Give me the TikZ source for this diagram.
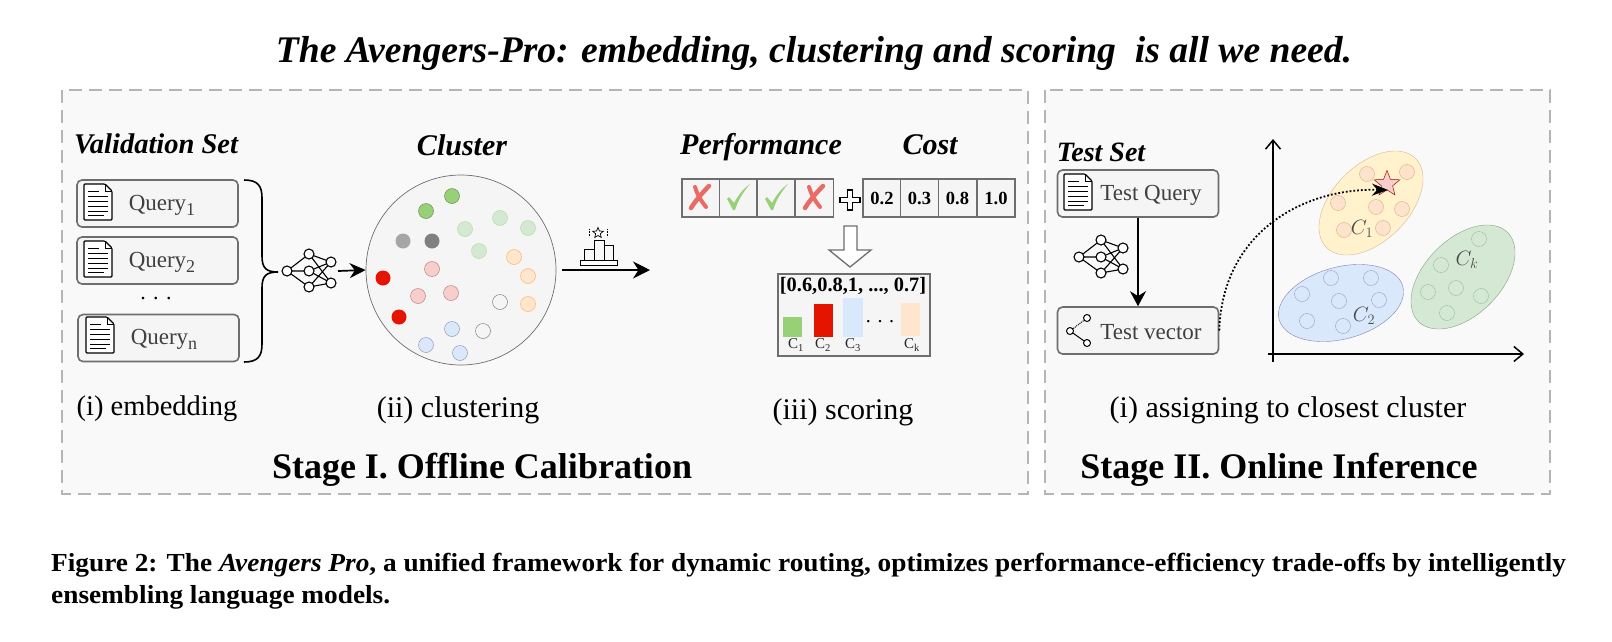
\documentclass[tikz,border=0pt]{standalone}
\usepackage{fontspec}
\setmainfont{Liberation Serif}
\newfontfamily\captionfont[FakeStretch=1.05]{Liberation Serif}
\usetikzlibrary{shapes.geometric,arrows.meta}
\definecolor{panelgray}{HTML}{F9F9F9}
\definecolor{boxgray}{HTML}{F5F5F5}
\definecolor{linegray}{HTML}{6E6E6E}
\definecolor{dashgray}{HTML}{B5B5B5}
\definecolor{dkgreen}{HTML}{97D077}
\definecolor{ltgreen}{HTML}{D5E8D4}
\definecolor{myred}{HTML}{E51400}
\definecolor{crossred}{HTML}{EA6B66}
\definecolor{mypink}{HTML}{F8CECC}
\definecolor{myorange}{HTML}{FFE6CC}
\definecolor{myblue}{HTML}{DAE8FC}
\definecolor{myyellow}{HTML}{FFF2CC}
\newcommand{\subidx}[1]{\raisebox{-5pt}{\fontsize{18}{18}\selectfont #1}}
\tikzstyle{panel} = [draw=dashgray, fill=panelgray, line width=1.3pt, dash pattern=on 13pt off 7pt]
\tikzstyle{heading} = [font=\fontsize{30}{32}\selectfont\bfseries\itshape]
\tikzstyle{stagetitle} = [font=\fontsize{36}{38}\selectfont\bfseries]
\tikzstyle{steplabel} = [font=\fontsize{30}{32}\selectfont]
\tikzstyle{boxtext} = [font=\fontsize{23}{26}\selectfont, text=black!75]
\tikzstyle{roundbox} = [rectangle, rounded corners=5pt, draw=linegray, fill=boxgray, line width=1.6pt, minimum width=161pt, minimum height=47pt]
\tikzstyle{cell} = [rectangle, draw=linegray, fill=boxgray, line width=1.6pt, minimum width=38pt, minimum height=38pt, inner sep=0pt, font=\fontsize{18.5}{20}\selectfont\bfseries]
\tikzstyle{dot} = [circle, minimum size=15pt, inner sep=0pt, line width=0.5pt]
\tikzstyle{smalldot} = [circle, minimum size=15pt, inner sep=0pt, line width=0.4pt, fill opacity=0.75]
\tikzstyle{barlabel} = [font=\fontsize{15}{17}\selectfont, text=black!85, inner sep=0pt]
\tikzset{
  docicon/.pic={
    \draw[line width=1.1pt, fill=white, rounded corners=1pt] (-14,-18) -- (7,-18) -- (14,-11) -- (14,18) -- (-14,18) -- cycle;
    \draw[line width=0.9pt] (7,-18) -- (7,-11) -- (14,-11);
    \draw[line width=0.9pt] (-10,-11) -- (1,-11) (-10,-6) -- (10,-6) (-10,-1) -- (10,-1) (-10,4) -- (10,4) (-10,9) -- (10,9) (-10,13) -- (6,13);
  },
  nnicon/.pic={
    \draw[line width=1.1pt] (0,0) -- (22,-17) (0,0) -- (22,0) (0,0) -- (22,16);
    \draw[line width=1.1pt] (22,-17) -- (44,-9) (22,-17) -- (44,12) (22,0) -- (44,-9) (22,0) -- (44,12) (22,16) -- (44,-9) (22,16) -- (44,12);
    \draw[line width=1.1pt, fill=white] (0,0) circle (5) (22,-17) circle (5) (22,0) circle (5) (22,16) circle (5) (44,-9) circle (5) (44,12) circle (5);
  },
  crossmark/.pic={
    \draw[crossred, line width=4.5pt, line cap=round] (9,-11) .. controls (3,-5) and (-4,3) .. (-9,11);
    \draw[crossred, line width=4pt, line cap=round] (-5,-10) .. controls (-3,-3) and (1,4) .. (6,10);
  },
  checkmark/.pic={
    \fill[dkgreen] (-11,2) -- (-9,0) -- (-4,6) .. controls (1,-3) and (6,-9) .. (12,-13) .. controls (6,-6) and (0,3) .. (-3,13) -- (-5,13) .. controls (-7,9) and (-9,5) .. (-11,2) -- cycle;
  }
}
\begin{document}
\begin{tikzpicture}[x=1pt,y=-1pt]
\useasboundingbox (0,0) rectangle (1612,641);

    % Title
    \node (title) at (814,53) {\fontsize{37.6}{40}\selectfont\bfseries\itshape The Avengers-Pro: embedding, clustering and scoring\ \ is all we need.};

    % Panels
    \draw[panel] (62,90) rectangle (1028,494);
    \draw[panel] (1045,90) rectangle (1550,494);

    % Stage I: embedding
    \node (valset) at (156,144) [heading, font=\fontsize{28.5}{32}\selectfont\bfseries\itshape] {Validation Set};
    \node (query1) at (157.5,203.5) [roundbox] {};
    \node (query2) at (157.5,260.5) [roundbox] {};
    \node (queryn) at (158.5,338) [roundbox] {};
    \pic at (98,202) {docicon};
    \pic at (98,259) {docicon};
    \pic at (100,335) {docicon};
    \node (q1text) at (162,205) [boxtext] {Query\subidx{1}};
    \node (q2text) at (162,262) [boxtext] {Query\subidx{2}};
    \node (qntext) at (164,339) [boxtext] {Query\subidx{n}};
    \node (qdots) at (156,299) [font=\fontsize{22}{24}\selectfont] {.\,\,.\,\,.};
    \draw[line width=1.6pt] (244,180) .. controls (258,180) and (262,186) .. (262,198) -- (262,256) .. controls (262,268) and (266,272) .. (278,272) .. controls (266,272) and (262,276) .. (262,288) -- (262,344) .. controls (262,356) and (258,362) .. (244,362);
    \pic at (287,271) {nnicon};
    \node (embedlabel) at (157,409) [steplabel, font=\fontsize{28.5}{32}\selectfont] {(i) embedding};

    % Stage I: clustering
    \node (clusterhead) at (462,145) [heading] {Cluster};
    \node (cluster) at (461,270) [circle, draw=linegray, fill=boxgray, line width=0.7pt, minimum size=190pt, inner sep=0pt] {};
    \coordinate (nnout) at (338,271);
    \draw[-{Stealth[length=16pt,width=15pt]}, line width=1.7pt] (nnout) -- (cluster.west);

    \node (g1) at (452,196) [dot, draw=dkgreen!70!black, fill=dkgreen] {};
    \node (g2) at (426,211) [dot, draw=dkgreen!70!black, fill=dkgreen] {};
    \node (lg1) at (465,229) [dot, draw=dkgreen!70!white, fill=ltgreen] {};
    \node (lg2) at (500,218) [dot, draw=dkgreen!70!white, fill=ltgreen] {};
    \node (lg3) at (528,228) [dot, draw=dkgreen!70!white, fill=ltgreen] {};
    \node (lg4) at (479,251) [dot, draw=dkgreen!70!white, fill=ltgreen] {};
    \node (gr1) at (403,241) [dot, fill=black!35] {};
    \node (gr2) at (432,241) [dot, fill=black!50] {};
    \node (p1) at (432,269) [dot, draw=myred!50!black!50, fill=mypink] {};
    \node (p2) at (418,296) [dot, draw=myred!50!black!50, fill=mypink] {};
    \node (p3) at (451,293) [dot, draw=myred!50!black!50, fill=mypink] {};
    \node (r1) at (383,278) [dot, fill=myred] {};
    \node (r2) at (399,317) [dot, fill=myred] {};
    \node (o1) at (514,257) [dot, draw=orange!60, fill=myorange] {};
    \node (o2) at (528,276) [dot, draw=orange!60, fill=myorange] {};
    \node (o3) at (528,304) [dot, draw=orange!60, fill=myorange] {};
    \node (w1) at (500,302) [dot, draw=black!50, fill=boxgray] {};
    \node (w2) at (483,331) [dot, draw=black!50, fill=boxgray] {};
    \node (b1) at (452,329) [dot, draw=blue!30!black!40, fill=myblue] {};
    \node (b2) at (426,345) [dot, draw=blue!30!black!40, fill=myblue] {};
    \node (b3) at (460,353) [dot, draw=blue!30!black!40, fill=myblue] {};
    \node (clusterlabel) at (458,410) [steplabel] {(ii) clustering};

    % Podium and arrow
    \coordinate (scorestart) at (562,270);
    \coordinate (scoreend) at (650,270);
    \draw[-{Stealth[length=17pt,width=17pt]}, line width=1.7pt] (scorestart) -- (scoreend);
    \draw[line width=0.8pt, fill=white] (580,260) rectangle (617,265);
    \draw[line width=0.8pt] (584,260) rectangle (594,249) (594,260) rectangle (604,240) (604,260) rectangle (613,245);
    \node (podiumstar) at (598,233) [star, star points=5, star point ratio=2.2, draw, line width=0.7pt, minimum size=11pt, inner sep=0pt] {};
    \draw[line width=0.6pt, densely dotted] (589,229) -- (589,237) (607,229) -- (607,237);

    % Stage I: scoring
    \node (perf) at (761,147) [heading] {Performance};
    \node (cost) at (930,145) [heading] {Cost};
    \node (c1) at (701,198) [cell] {};
    \node (c2) at (738.5,198) [cell] {};
    \node (c3) at (776,198) [cell] {};
    \node (c4) at (814.5,198) [cell] {};
    \pic at (700,197) {crossmark};
    \pic at (738,197) {checkmark};
    \pic at (776,197) {checkmark};
    \pic at (814,197) {crossmark};
    \node (d1) at (882,198) [cell] {0.2};
    \node (d2) at (919.5,198) [cell] {0.3};
    \node (d3) at (957.5,198) [cell] {0.8};
    \node (d4) at (996,198) [cell] {1.0};
    \draw[line width=1.6pt, fill=white] (847.5,190) -- (852.5,190) -- (852.5,197.5) -- (860,197.5) -- (860,202.5) -- (852.5,202.5) -- (852.5,210) -- (847.5,210) -- (847.5,202.5) -- (840,202.5) -- (840,197.5) -- (847.5,197.5) -- cycle;
    \draw[line width=1.3pt, draw=linegray, fill=white] (844,226) -- (857,226) -- (857,250) -- (871,250) -- (850,267) -- (829,250) -- (844,250) -- cycle;
    \node (scorebox) at (854,315) [rectangle, draw=linegray, fill=boxgray, line width=1.6pt, minimum width=152pt, minimum height=82pt] {};
    \node (scoretext) at (853,286) [font=\fontsize{20.4}{22}\selectfont\bfseries] {[0.6,0.8,1, ..., 0.7]};
    \fill[dkgreen] (783,317) rectangle (802,337);
    \fill[myred] (814,304) rectangle (833,337);
    \fill[myblue] (843,298) rectangle (863,337);
    \fill[myorange] (901,303) rectangle (920,336);
    \node (bardots) at (880,322) [font=\fontsize{20}{22}\selectfont] {.\,\,.\,\,.};
    \node (l1) at (796,345) [barlabel] {C\textsubscript{1}};
    \node (l2) at (823,345) [barlabel] {C\textsubscript{2}};
    \node (l3) at (853,345) [barlabel] {C\textsubscript{3}};
    \node (lk) at (912,345) [barlabel] {C\textsubscript{k}};
    \node (scorelabel) at (843,412) [steplabel] {(iii) scoring};

    \node (stage1) at (482,470) [stagetitle] {Stage I. Offline Calibration};

    % Stage II: test query
    \node (testset) at (1101,152) [heading, font=\fontsize{28}{32}\selectfont\bfseries\itshape] {Test Set};
    \node (testquery) at (1138,193.5) [roundbox] {};
    \node (testvector) at (1138,330.5) [roundbox] {};
    \pic at (1078,192) {docicon};
    \node (tqtext) at (1151,195) [boxtext] {Test Query};
    \node (tvtext) at (1151,332) [boxtext] {Test vector};
    \pic at (1079,257) {nnicon};
    \draw[-{Stealth[length=15pt,width=16pt]}, line width=1.9pt] (testquery.south) -- (testvector.north);
    \draw[line width=1pt] (1070,331) -- (1087,343);
    \draw[line width=1pt, densely dotted] (1070,331) -- (1087,318);
    \node (gv1) at (1070,331) [circle, draw, line width=1pt, fill=white, minimum size=7pt, inner sep=0pt] {};
    \node (gv2) at (1087,318) [circle, draw, line width=1pt, fill=white, minimum size=7pt, inner sep=0pt] {};
    \node (gv3) at (1087,343) [circle, draw, line width=1pt, fill=white, minimum size=7pt, inner sep=0pt] {};

    % Axes
    \coordinate (yfrom) at (1273,362);
    \coordinate (yto) at (1273,139);
    \coordinate (xfrom) at (1268,354);
    \coordinate (xto) at (1524,354);
    \draw[->, >={Straight Barb[length=9pt,width=15pt]}, line width=1.5pt] (yfrom) -- (yto);
    \draw[->, >={Straight Barb[length=9pt,width=15pt]}, line width=1.5pt] (xfrom) -- (xto);

    % Ellipses
    \draw[draw=orange!60!black!40, fill=myyellow, rotate around={45:(1371,203)}] (1371,203) ellipse (63 and 38);
    \draw[draw=blue!40!black!50, fill=myblue, rotate around={15:(1341,303)}] (1341,303) ellipse (64 and 36);
    \draw[draw=green!30!black!50, fill=ltgreen, rotate around={45:(1463,277)}] (1463,277) ellipse (63 and 38);

    % Points in C1
    \node (a1) at (1367,174) [smalldot, draw=orange!70!black!50, fill=myorange!70!mypink] {};
    \node (a2) at (1407,172) [smalldot, draw=orange!70!black!50, fill=myorange!70!mypink] {};
    \node (a3) at (1338,203) [smalldot, draw=orange!70!black!50, fill=myorange!70!mypink] {};
    \node (a4) at (1376,207) [smalldot, draw=orange!70!black!50, fill=myorange!70!mypink] {};
    \node (a5) at (1402,209) [smalldot, draw=orange!70!black!50, fill=myorange!70!mypink] {};
    \node (a6) at (1344,230) [smalldot, draw=orange!70!black!50, fill=myorange!70!mypink] {};
    \node (a7) at (1383,228) [smalldot, draw=orange!70!black!50, fill=myorange!70!mypink] {};
    \node (c1label) at (1362,229) [font=\fontsize{20}{22}\selectfont, text=black!70] {$C_1$};
    \node (closest) at (1387,184) [star, star points=5, star point ratio=2.3, draw=myred!70!black, fill=mypink, line width=0.5pt, minimum size=27pt, inner sep=0pt] {};
    \coordinate (closesttip) at (1388,190);

    % Points in C2
    \node (e1) at (1331,278) [smalldot, draw=blue!40!black!40, fill=myblue] {};
    \node (e2) at (1371,278) [smalldot, draw=blue!40!black!40, fill=myblue] {};
    \node (e3) at (1302,294) [smalldot, draw=blue!40!black!40, fill=myblue] {};
    \node (e4) at (1339,301) [smalldot, draw=blue!40!black!40, fill=myblue] {};
    \node (e5) at (1379,300) [smalldot, draw=blue!40!black!40, fill=myblue] {};
    \node (e6) at (1307,321) [smalldot, draw=blue!40!black!40, fill=myblue] {};
    \node (e7) at (1343,326) [smalldot, draw=blue!40!black!40, fill=myblue] {};
    \node (c2label) at (1364,316) [font=\fontsize{20}{22}\selectfont, text=black!70] {$C_2$};

    % Points in Ck
    \node (f1) at (1479,239) [smalldot, draw=green!30!black!40, fill=ltgreen] {};
    \node (f2) at (1441,265) [smalldot, draw=green!30!black!40, fill=ltgreen] {};
    \node (f3) at (1428,292) [smalldot, draw=green!30!black!40, fill=ltgreen] {};
    \node (f4) at (1456,288) [smalldot, draw=green!30!black!40, fill=ltgreen] {};
    \node (f5) at (1481,296) [smalldot, draw=green!30!black!40, fill=ltgreen] {};
    \node (f6) at (1447,313) [smalldot, draw=green!30!black!40, fill=ltgreen] {};
    \node (cklabel) at (1467,260) [font=\fontsize{20}{22}\selectfont, text=black!70] {$C_k$};

    % Dotted assignment
    \draw[-{Stealth[length=16pt,width=12pt]}, line width=1.8pt, dotted] (testvector.east) .. controls (1222,235) and (1300,188) .. (closesttip);

    \node (assignlabel) at (1288,410) [steplabel] {(i) assigning to closest cluster};
    \node (stage2) at (1279,470) [stagetitle] {Stage II. Online Inference};

    % Caption
    \node (caption1) at (51,565) [anchor=west, inner sep=0pt, font=\fontsize{26}{28}\selectfont\captionfont\bfseries] {Figure 2: The \textit{Avengers Pro}, a unified framework for dynamic routing, optimizes performance-efficiency trade-offs by intelligently};
    \node (caption2) at (51,597) [anchor=west, inner sep=0pt, font=\fontsize{26}{28}\selectfont\captionfont\bfseries] {ensembling language models.};

\end{tikzpicture}
\end{document}
